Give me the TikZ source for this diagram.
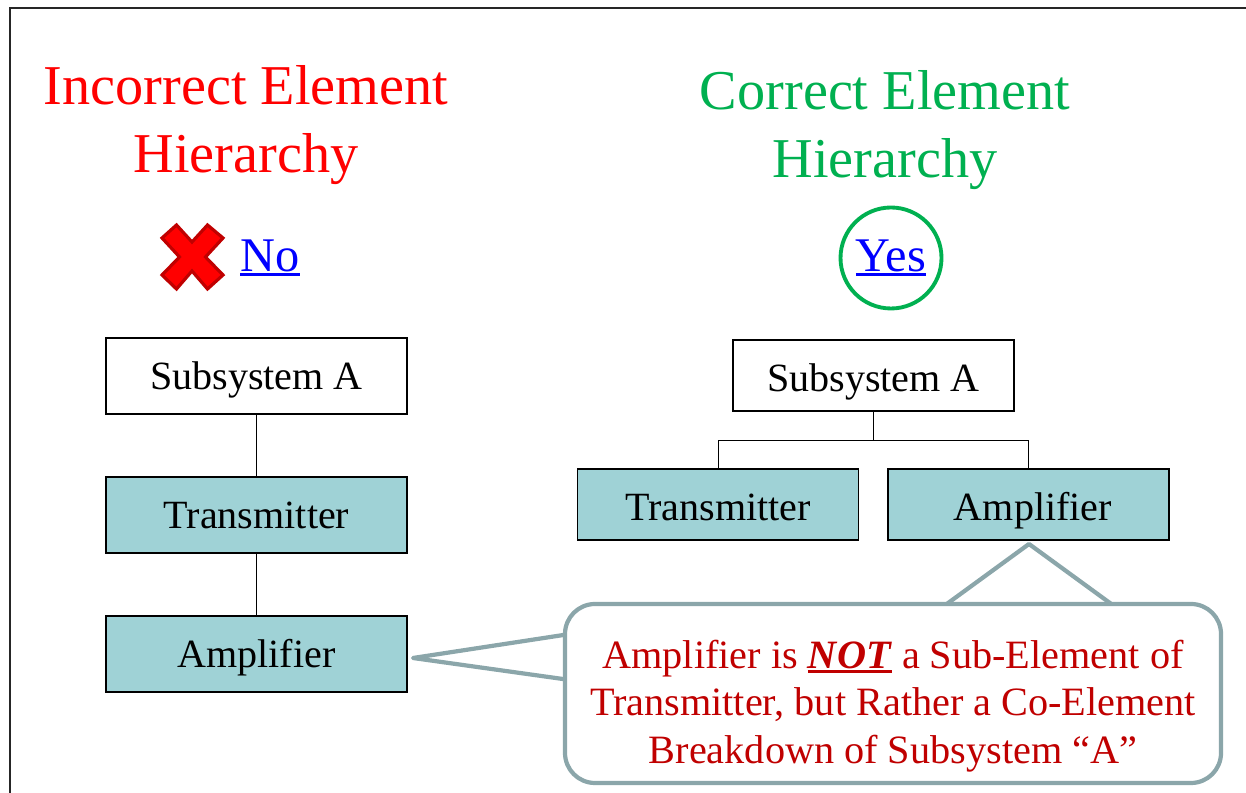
\documentclass[tikz,border=0pt]{standalone}
\usepackage{fontspec}
\setmainfont{Liberation Serif}
\newcommand{\thickul}[1]{\sbox0{#1}\rlap{\rule[-3pt]{\wd0}{1.7pt}}\usebox0}
\definecolor{boxteal}{HTML}{9FD2D6}
\definecolor{calloutline}{HTML}{8BA6AA}
\definecolor{goodgreen}{HTML}{00B050}
\definecolor{notered}{HTML}{C00000}
\tikzset{
  plainbox/.style={draw=black,line width=0.6pt,minimum width=#1,minimum height=1.52cm,font=\fontsize{22.8}{27}\selectfont,inner sep=0pt,text height=15.6pt,text depth=0pt},
  tealbox/.style={plainbox=#1,fill=boxteal},
  rightbox/.style={minimum height=1.42cm,text height=17.8pt},
  title/.style={align=center,font=\fontsize{32}{38.5}\selectfont},
  answer/.style={text=blue,font=\fontsize{27.5}{30}\selectfont},
  wedge/.style={draw=calloutline,line width=2.4pt,line join=round}
}
\begin{document}
\begin{tikzpicture}
\useasboundingbox (0,0) rectangle (24.92,15.86);
\draw[line width=0.6pt,black!85] (0.2,0) -- (0.2,15.7) -- (24.92,15.7);

\node[title,text=red] (titleA) at (4.92,13.36) {Incorrect Element\\Hierarchy};
\node[title,text=goodgreen] (titleB) at (17.7,13.26) {Correct Element\\Hierarchy};

\draw[fill=red,draw=notered,line width=1.8pt,line join=miter] (3.53,11.36) -- (3.24,11.1) -- (3.59,10.72) -- (3.24,10.36) -- (3.53,10.08) -- (3.84,10.44) -- (4.15,10.08) -- (4.46,10.36) -- (4.11,10.72) -- (4.46,11.1) -- (4.15,11.36) -- (3.84,11.02) -- cycle;
\node[answer] (no) at (5.4,10.7) {\thickul{No}};
\node[answer,draw=goodgreen,line width=2.2pt,circle,minimum size=2.02cm,inner sep=0pt] (yes) at (17.82,10.7) {\thickul{Yes}};

\node[plainbox=6.02cm,fill=white] (subA) at (5.13,8.34) {Subsystem A};
\node[tealbox=6.02cm] (transA) at (5.13,5.56) {Transmitter\hspace{2pt}};
\node[tealbox=6.02cm] (ampA) at (5.13,2.78) {Amplifier\hspace{3pt}};
\draw (subA) -- (transA);
\draw (transA) -- (ampA);

\node[plainbox=5.62cm,rightbox] (subB) at (17.47,8.35) {Subsystem A};
\node[tealbox=5.62cm,rightbox] (transB) at (14.36,5.77) {Transmitter};
\node[tealbox=5.62cm,rightbox] (ampB) at (20.57,5.77) {\hspace{5pt}Amplifier};
\coordinate (bus) at (17.47,7.06);
\draw (subB) -- (bus);
\draw (transB.north) |- (bus);
\draw (ampB.north) |- (bus);

\coordinate (tipA) at (8.26,2.7);
\coordinate (tipB) at (20.58,4.98);
\draw[wedge] (11.4,3.18) -- (tipA) -- (11.4,2.26);
\draw[wedge] (18.88,3.74) -- (tipB) -- (22.28,3.74);
\node[draw=calloutline,line width=2.4pt,fill=white,rounded corners=0.6cm,minimum width=13.12cm,minimum height=3.58cm] (note) at (17.86,1.99) {};
\node[align=center,text=notered,font=\fontsize{22.9}{27.2}\selectfont] (noteText) at (17.86,1.74) {Amplifier is \thickul{\textbf{\textit{NOT}}} a Sub-Element of\\Transmitter, but Rather a Co-Element\\Breakdown of Subsystem “A”};
\end{tikzpicture}
\end{document}
